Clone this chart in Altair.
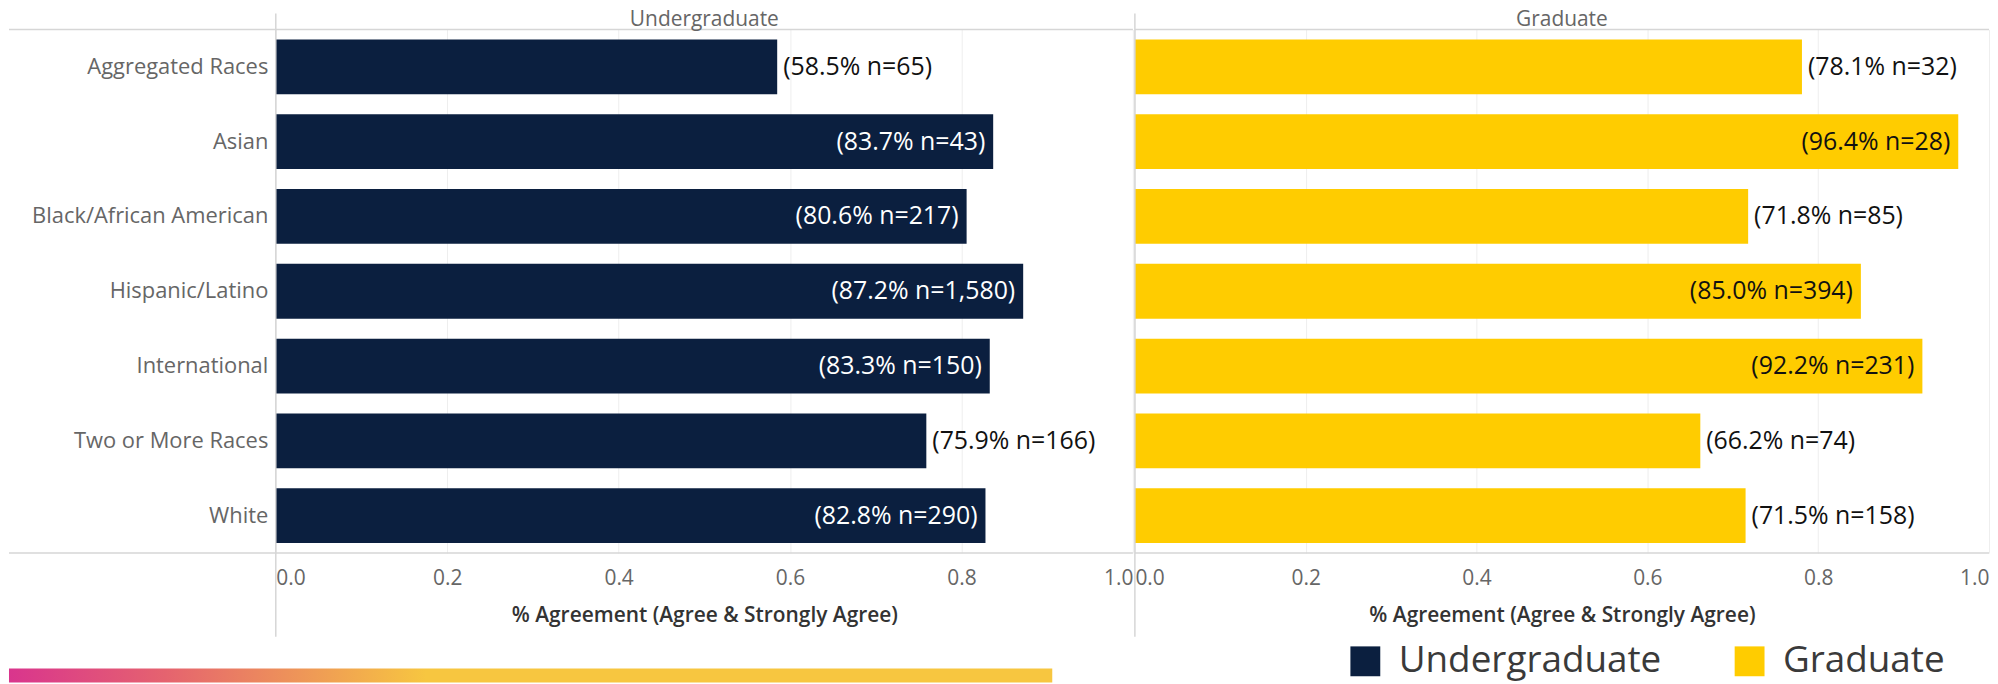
import altair as alt
import pandas as pd

# ---- data ----
races = ["Aggregated Races", "Asian", "Black/African American", "Hispanic/Latino",
         "International", "Two or More Races", "White"]
levels = ["Undergraduate", "Graduate"]
ug_pct = [58.5, 83.7, 80.6, 87.2, 83.3, 75.9, 82.8]
ug_n = [65, 43, 217, 1580, 150, 166, 290]
gr_pct = [78.1, 96.4, 71.8, 85.0, 92.2, 66.2, 71.5]
gr_n = [32, 28, 85, 394, 231, 74, 158]
x_ticks = [0.0, 0.2, 0.4, 0.6, 0.8, 1.0]
axis_title = "% Agreement (Agree & Strongly Agree)"

colors = ["#0b1f3f", "#ffcc00"]
FONT = "Open Sans"
PLOT_H = 526
LEFT_EXT = 269


def make_df(level, pct, n):
    return pd.DataFrame({
        "race": races,
        "level": level,
        "value": [p / 100 for p in pct],
        "label": [f"({p:.1f}% n={k:,})" for p, k in zip(pct, n)],
    })


def panel(df, level, width, inside_color, show_y):
    if show_y:
        yax = alt.Axis(title=None, labelFontSize=22, labelColor="#666666", labelFont=FONT,
                       labelPadding=8, ticks=False, domain=False, grid=False,
                       minExtent=LEFT_EXT, maxExtent=LEFT_EXT, labelLimit=400)
    else:
        yax = None
    y = alt.Y("race:N", sort=races,
              scale=alt.Scale(paddingInner=0.267, paddingOuter=0.133), axis=yax)
    xax = alt.Axis(values=x_ticks, format=".1f", labelFlush=True, domain=False, ticks=False,
                   grid=True, gridColor="#eeeeee", gridWidth=1,
                   labelFontSize=21, labelColor="#666666", labelFont=FONT, labelPadding=15,
                   title=axis_title, titleFontSize=21, titleFontWeight=600,
                   titleColor="#333333", titleFont=FONT, titlePadding=16)
    x = alt.X("value:Q", scale=alt.Scale(domain=[0, 1], nice=False), axis=xax)

    base = alt.Chart(df)
    bars = base.mark_bar().encode(
        x=x, y=y,
        color=alt.Color("level:N", scale=alt.Scale(domain=levels, range=colors),
                        legend=alt.Legend(orient="none", legendX=1076, legendY=616,
                                          direction="horizontal", title=None,
                                          symbolType="square", symbolSize=900,
                                          symbolStrokeWidth=0, symbolOpacity=1,
                                          labelFontSize=37, labelColor="#3a3a3a",
                                          labelFont=FONT, labelOffset=15,
                                          labelLimit=500,
                                          columnPadding=70, padding=0)),
    )
    txt_in = base.mark_text(align="right", baseline="middle", dx=-8, fontSize=25,
                            font=FONT, color=inside_color).encode(
        x=x, y=y, text="label:N").transform_filter("datum.value >= 0.8")
    txt_out = base.mark_text(align="left", baseline="middle", dx=6, fontSize=25,
                             font=FONT, color="#111111").encode(
        x=x, y=y, text="label:N").transform_filter("datum.value < 0.8")

    deco = alt.Chart(pd.DataFrame({"k": [0]}))
    x0 = -LEFT_EXT + 1 if show_y else 0
    line_col = "#d6d6d6"
    h_top = deco.mark_rule(color=line_col, strokeWidth=1.5).encode(
        x=alt.value(x0), x2=alt.value(width), y=alt.value(0))
    h_bot = deco.mark_rule(color=line_col, strokeWidth=1.5).encode(
        x=alt.value(x0), x2=alt.value(width), y=alt.value(PLOT_H))
    v_line = deco.mark_rule(color=line_col, strokeWidth=1.5).encode(
        x=alt.value(0), y=alt.value(-16), y2=alt.value(610))
    header = alt.Chart(pd.DataFrame({"level": [level]})).mark_text(
        align="center", baseline="alphabetic", fontSize=21, font=FONT,
        color="#666666").encode(
        text="level:N", x=alt.value(width / 2), y=alt.value(-3))
    layers = [bars, txt_in, txt_out, h_top, h_bot, v_line, header]
    if show_y:
        grad = deco.mark_rect(color=alt.LinearGradient(
            gradient="linear",
            stops=[alt.GradientStop(color="#d9358d", offset=0),
                   alt.GradientStop(color="#e5636f", offset=0.15),
                   alt.GradientStop(color="#ee9658", offset=0.28),
                   alt.GradientStop(color="#f7c640", offset=0.40),
                   alt.GradientStop(color="#f7c640", offset=1)],
            x1=0, x2=1, y1=0, y2=0)).encode(
            x=alt.value(x0), x2=alt.value(780), y=alt.value(642), y2=alt.value(656))
        layers.append(grad)
    return alt.layer(*layers).properties(width=width, height=PLOT_H)


left = panel(make_df("Undergraduate", ug_pct, ug_n), "Undergraduate", 861, "#ffffff", True)
right = panel(make_df("Graduate", gr_pct, gr_n), "Graduate", 858, "#111111", False)

chart = alt.hconcat(left, right, spacing=0).properties(padding=0).configure(
    font=FONT).configure_view(stroke=None)

chart.save("out.html", embed_options={"renderer": "svg", "actions": False})
